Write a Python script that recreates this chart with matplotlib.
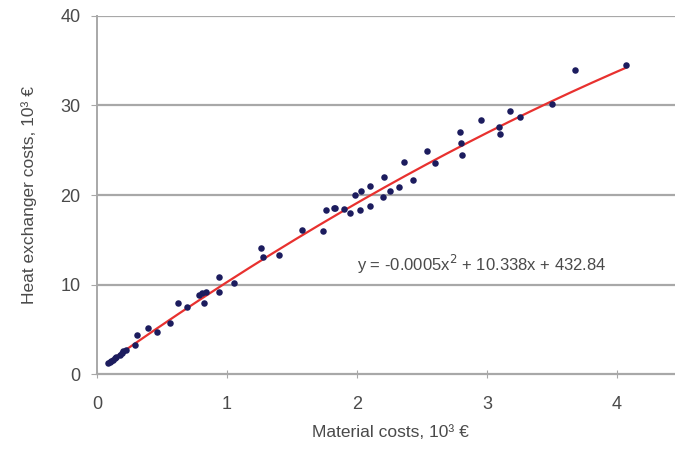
import matplotlib.pyplot as plt
import numpy as np

plt.rcParams['font.family'] = ['Liberation Sans', 'DejaVu Sans']

# material costs (10^3 EUR) and heat exchanger costs (10^3 EUR)
material = [0.087, 0.10, 0.11, 0.125, 0.14, 0.15, 0.18, 0.19, 0.20, 0.22,
            0.29, 0.305, 0.395, 0.46, 0.56, 0.625, 0.69, 0.785, 0.805, 0.82,
            0.84, 0.935, 0.94, 1.05, 1.26, 1.275, 1.40, 1.575, 1.736, 1.76,
            1.82, 1.83, 1.90, 1.946, 1.985, 2.02, 2.03, 2.10, 2.10, 2.20,
            2.21, 2.25, 2.32, 2.36, 2.43, 2.54, 2.60, 2.79, 2.80, 2.81,
            2.95, 3.09, 3.10, 3.18, 3.25, 3.50, 3.68, 4.07]
exchanger = [1.2, 1.3, 1.45, 1.6, 1.75, 1.95, 2.1, 2.35, 2.6, 2.7,
             3.24, 4.36, 5.1, 4.73, 5.73, 7.9, 7.45, 8.8, 9.08, 7.9,
             9.2, 9.2, 10.87, 10.2, 14.04, 13.1, 13.25, 16.1, 15.98, 18.3,
             18.5, 18.6, 18.4, 18.0, 20.0, 18.3, 20.45, 21.0, 18.77, 19.8,
             22.05, 20.4, 20.9, 23.7, 21.7, 24.95, 23.6, 27.07, 25.8, 24.5,
             28.4, 27.6, 26.8, 29.4, 28.7, 30.2, 33.97, 34.5]

# trendline printed on the chart (x, y in EUR)
coef_a, coef_b, coef_c = -0.0005, 10.338, 432.84
eq_label = "y = -0.0005x$^2$ + 10.338x + 432.84"

x_ticks = [0, 1, 2, 3, 4]
y_ticks = [0, 10, 20, 30, 40]

fig = plt.figure(figsize=(6.75, 4.57), dpi=100)
ax = fig.add_axes([0.1437, 0.1816, 0.8563, 0.7834])

grid_col = '#a8a8a8'
text_col = '#4a4a4a'

for yv in y_ticks[1:]:
    ax.axhline(yv, color=grid_col, lw=1.6, zorder=1)

# trendline in 10^3 units
xs = np.linspace(min(material), max(material), 200)
ys = (coef_a * (xs * 1000) ** 2 + coef_b * xs * 1000 + coef_c) / 1000
ax.plot(xs, ys, color='#e8312f', lw=1.6, zorder=2)

ax.scatter(material, exchanger, s=22, color='#1c1c5e', zorder=3, linewidths=0)

ax.text(2.0, 12.2, eq_label, fontsize=12, color=text_col, ha='left', va='center')

ax.set_xlim(0, 4.446)
ax.set_ylim(0, 40)
ax.set_xticks(x_ticks)
ax.set_yticks(y_ticks)

for side in ['top', 'right']:
    ax.spines[side].set_visible(False)
ax.spines['left'].set_color(grid_col)
ax.spines['bottom'].set_color(grid_col)
ax.spines['left'].set_linewidth(1.4)
ax.spines['bottom'].set_linewidth(1.6)

ax.tick_params(axis='y', colors=grid_col, labelcolor=text_col, labelsize=13,
               length=4, pad=8)
ax.tick_params(axis='x', colors=grid_col, labelcolor=text_col, labelsize=13,
               direction='inout', length=6, pad=12.5)

ax.set_xlabel('Material costs, 10³ €', fontsize=12.5, color=text_col)
ax.set_ylabel('Heat exchanger costs, 10³ €', fontsize=12.5, color=text_col)
ax.xaxis.set_label_coords(0.507, -0.142)
ax.yaxis.set_label_coords(-0.104, 0.5)

fig.savefig('out.png', dpi=100)
